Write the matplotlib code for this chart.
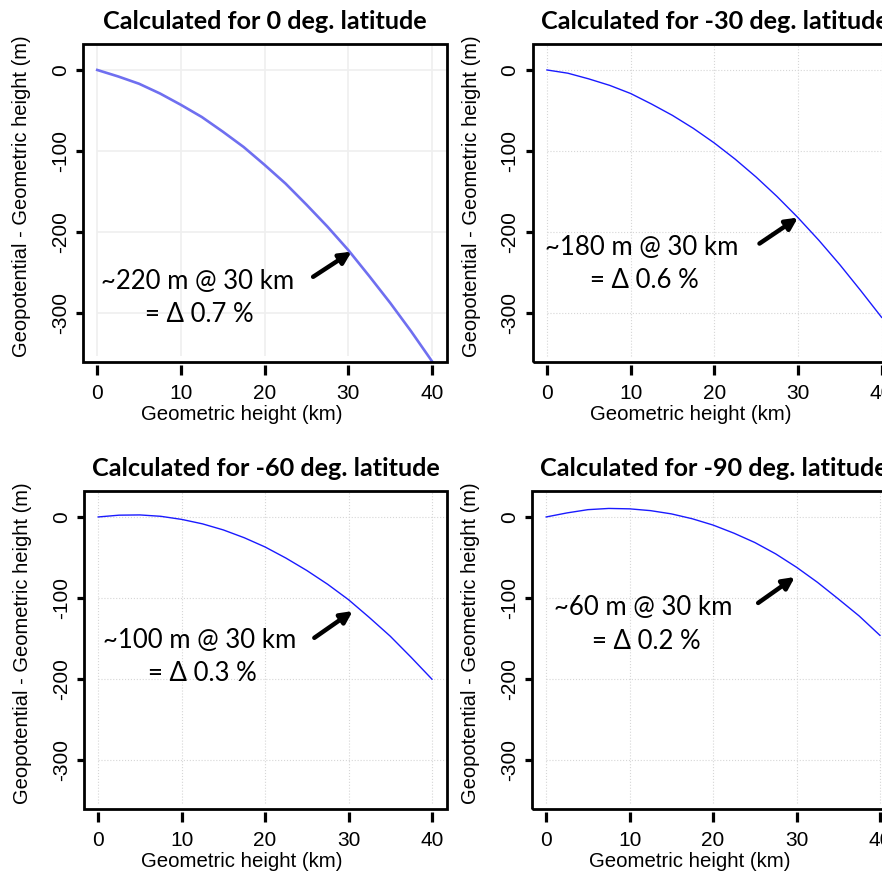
import matplotlib
matplotlib.use("Agg")
import matplotlib.pyplot as plt
from matplotlib.patches import Rectangle

# geometric height (km) and geopotential minus geometric height (m)
height_km = [0, 2.5, 5, 7.5, 10, 12.5, 15, 17.5, 20, 22.5, 25, 27.5, 30, 32.5, 35, 37.5, 40]
diff_lat0 = [0, -8, -17, -29, -43, -58, -76, -95, -117, -140, -166, -193, -222, -254, -287, -322, -359]
diff_lat30 = [0, -4, -11, -19, -29, -42, -56, -72, -90, -110, -132, -156, -182, -210, -240, -272, -305]
diff_lat60 = [0, 2.2, 2.5, 0.8, -3, -8.5, -16, -25.6, -37, -50.7, -66, -83, -102, -124, -147, -173, -200]
diff_lat90 = [0, 5, 9, 10.5, 10, 7.8, 3.8, -2.2, -10, -20, -31.5, -45.5, -62, -80.5, -101, -122, -146]

titles = ["Calculated for 0 deg. latitude", "Calculated for -30 deg. latitude",
          "Calculated for -60 deg. latitude", "Calculated for -90 deg. latitude"]
notes_top = ["~220 m @ 30 km", "~180 m @ 30 km", "~100 m @ 30 km", "~60 m @ 30 km"]
notes_bottom = ["= \u0394 0.7 %", "= \u0394 0.6 %", "= \u0394 0.3 %", "= \u0394 0.2 %"]

xticks = [0, 10, 20, 30, 40]
yticks = [0, -100, -200, -300]

W, H = 882, 872
fig = plt.figure(figsize=(W / 100, H / 100), dpi=100)


def px_axes(left, top, width, height):
    return fig.add_axes([left / W, (H - top - height) / H, width / W, height / H])


# pixel boxes of the four panels (right column runs past the figure edge)
boxes = [(83, 44, 364, 318), (532.7, 44, 364, 318),
         (84, 491, 363, 318), (532, 491, 363, 318)]
series = [diff_lat0, diff_lat30, diff_lat60, diff_lat90]
line_style = [dict(color="#6f6ff0", lw=1.9), dict(color="#1a1aff", lw=1.0),
              dict(color="#1a1aff", lw=1.0), dict(color="#1a1aff", lw=1.0)]
grid_style = [dict(color="#efefef", lw=1.2, ls="-"), dict(color="#d6d6d6", lw=0.8, ls=":"),
              dict(color="#d6d6d6", lw=0.8, ls=":"), dict(color="#d6d6d6", lw=0.8, ls=":")]
# annotation positions (data coords): text line 1, text line 2, arrow tail, arrow head
note_pos = [((0.5, -261), (5.7, -301), (25.8, -255), (30.4, -224)),
            ((-0.2, -219), (5.2, -260), (25.4, -214), (30.0, -182)),
            ((0.55, -152), (6.0, -193), (25.9, -149), (30.5, -116)),
            ((0.9, -111), (5.5, -153), (25.4, -106), (29.8, -74))]

tick_font = "Liberation Sans"
note_font = ["Lato", "DejaVu Sans"]

for i in range(4):
    ax = px_axes(*boxes[i])
    ax.set_xlim(-1.7, 41.8)
    ax.set_ylim(-360, 32)

    ax.vlines(xticks, -352, 32, zorder=0, **grid_style[i])
    ax.hlines(yticks, 0, 41.8, zorder=0, **grid_style[i])

    ax.plot(height_km, series[i], zorder=2, solid_joinstyle="round", **line_style[i])

    # x ticks sit a little below the box, so draw the box separately
    ax.spines["bottom"].set_position(("outward", 2.5))
    for s in ax.spines.values():
        s.set_visible(False)
    ax.add_patch(Rectangle((0, 0), 1, 1, transform=ax.transAxes, fill=False,
                           lw=2.0, ec="black", clip_on=False, zorder=3))

    ax.set_xticks(xticks)
    ax.set_yticks(yticks)
    ax.set_xticklabels([str(t) for t in xticks], fontsize=15, family=tick_font)
    ax.set_yticklabels([str(t) for t in yticks], fontsize=15, family=tick_font,
                       rotation=90, va="center")
    ax.tick_params(axis="x", direction="out", length=7, width=2.3, pad=6)
    ax.tick_params(axis="y", direction="out", length=5, width=2.3, pad=4.5)

    ax.set_xlabel("Geometric height (km)", fontsize=14.7, family=tick_font)
    ax.xaxis.set_label_coords(0.435, -0.135)
    ax.set_ylabel("Geopotential - Geometric height (m)", fontsize=14.5, family=tick_font)
    ax.yaxis.set_label_coords(-0.143, 0.52)

    ax.text(0.5, 1.07, titles[i], transform=ax.transAxes, ha="center", va="center",
            fontsize=18.2, fontweight="bold", family=note_font)

    t1, t2, tail, head = note_pos[i]
    ax.text(t1[0], t1[1], notes_top[i], ha="left", va="center", fontsize=18.5, family=note_font)
    ax.text(t2[0], t2[1], notes_bottom[i], ha="left", va="center", fontsize=18.5, family=note_font)
    ax.annotate("", xy=head, xytext=tail,
                arrowprops=dict(arrowstyle="-|>,head_length=0.7,head_width=0.35",
                                lw=3.2, color="black", shrinkA=0, shrinkB=0))

fig.savefig("out.png", dpi=100, facecolor="white")
